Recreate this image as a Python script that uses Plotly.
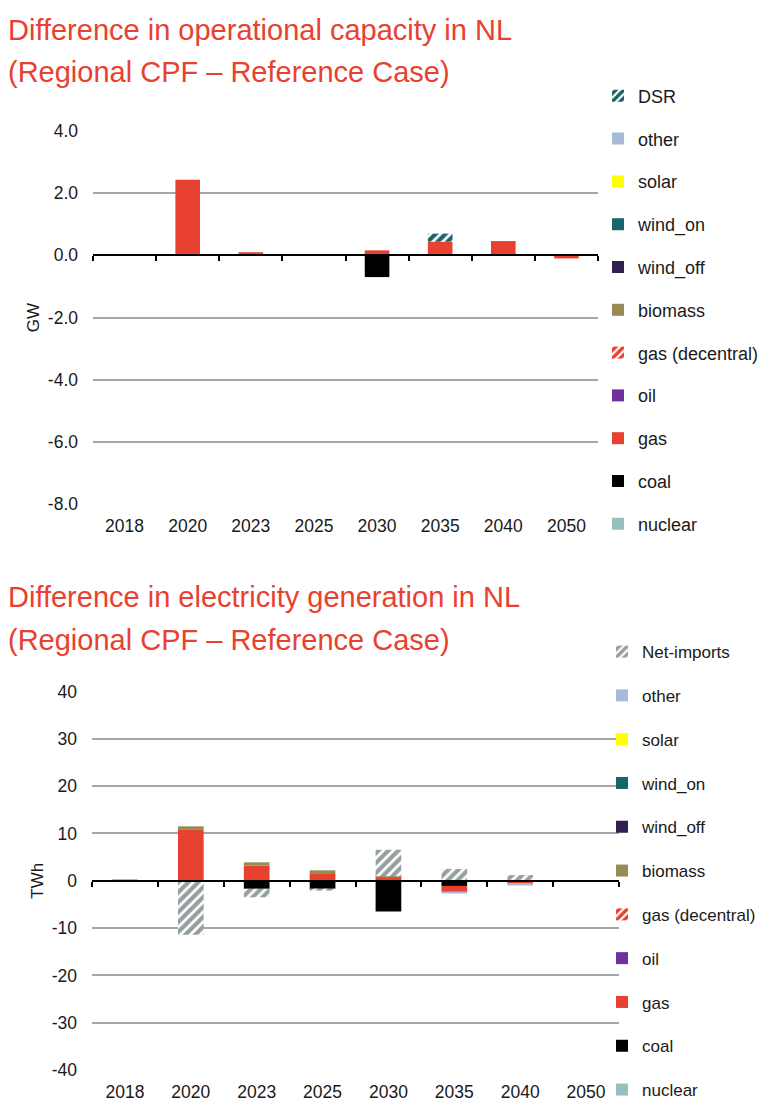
import plotly.graph_objects as go

years = ['2018', '2020', '2023', '2025', '2030', '2035', '2040', '2050']
zeros = [0, 0, 0, 0, 0, 0, 0, 0]

# capacity difference (GW)
cap_nuclear = zeros
cap_coal = [0, 0, 0, 0, -0.70, 0, 0, 0]
cap_gas = [0, 2.43, 0.10, 0, 0.16, 0.44, 0.46, -0.10]
cap_oil = zeros
cap_gas_dec = zeros
cap_biomass = zeros
cap_wind_off = zeros
cap_wind_on = zeros
cap_solar = zeros
cap_other = zeros
cap_dsr = [0, 0, 0, 0, 0, 0.26, 0, 0]

# generation difference (TWh)
gen_nuclear = zeros
gen_coal = [0, 0, -1.7, -1.75, -6.5, -1.1, -0.25, 0]
gen_gas = [0.1, 10.9, 3.2, 1.6, 0.85, -1.3, -0.35, 0]
gen_oil = zeros
gen_gas_dec = zeros
gen_biomass = [0, 0.6, 0.7, 0.6, 0.1, 0, 0, 0]
gen_wind_off = zeros
gen_wind_on = zeros
gen_solar = zeros
gen_other = [0, 0, 0, 0, 0, -0.3, -0.3, 0]
gen_netimp = [0, -11.4, -1.8, -0.35, 5.6, 2.5, 1.2, 0]

# axis tick labels (hyphen minus like the original)
cap_ticks = [-8, -6, -4, -2, 0, 2, 4]
cap_ticktext = ['-8.0', '-6.0', '-4.0', '-2.0', '0.0', '2.0', '4.0']
gen_ticks = [-40, -30, -20, -10, 0, 10, 20, 30, 40]
gen_ticktext = ['-40', '-30', '-20', '-10', '0', '10', '20', '30', '40']

W, H = 769, 1100
OFF = 8  # page body margin
RED = '#E8412F'
FONT = 'Liberation Sans, Arial, sans-serif'


def py(px):
    return 1 - (px - OFF) / H


def px_x(px):
    return (px - OFF) / W


series = [
    ('nuclear', '#96C0C0', None),
    ('coal', '#000000', None),
    ('gas', RED, None),
    ('oil', '#7030A0', None),
    ('gas (decentral)', RED, '/'),
    ('biomass', '#978B55', None),
    ('wind_off', '#302050', None),
    ('wind_on', '#17656D', None),
    ('solar', '#FFFF00', None),
    ('other', '#A9B9D9', None),
]

cap_vals = [cap_nuclear, cap_coal, cap_gas, cap_oil, cap_gas_dec, cap_biomass,
            cap_wind_off, cap_wind_on, cap_solar, cap_other]
gen_vals = [gen_nuclear, gen_coal, gen_gas, gen_oil, gen_gas_dec, gen_biomass,
            gen_wind_off, gen_wind_on, gen_solar, gen_other]

fig = go.Figure()
rank = [100]


def add_bar(name, vals, color, pattern, xa, ya, legend, grp):
    if pattern:
        marker = dict(color='white', line=dict(width=0),
                      pattern=dict(shape=pattern, fgcolor=color, bgcolor='white',
                                   fgopacity=1, size=7, solidity=0.6))
    else:
        marker = dict(color=color, line=dict(width=0))
    rank[0] -= 1
    fig.add_trace(go.Bar(x=years, y=vals, name=name, marker=marker,
                         xaxis=xa, yaxis=ya, legend=legend, legendgroup=grp,
                         legendrank=rank[0]))


for (name, color, pat), v in zip(series, cap_vals):
    add_bar(name, v, color, pat, 'x', 'y', 'legend', 'c_' + name)
add_bar('DSR', cap_dsr, '#15636B', '/', 'x', 'y', 'legend', 'c_DSR')

for (name, color, pat), v in zip(series, gen_vals):
    add_bar(name, v, color, pat, 'x2', 'y2', 'legend2', 'g_' + name)
add_bar('Net-imports', gen_netimp, '#959FA0', '/', 'x2', 'y2', 'legend2', 'g_NI')

# empty traces so the zero-line axes (with category tick marks) get drawn
fig.add_trace(go.Scatter(x=[], y=[], xaxis='x3', yaxis='y', showlegend=False,
                         hoverinfo='skip'))
fig.add_trace(go.Scatter(x=[], y=[], xaxis='x4', yaxis='y2', showlegend=False,
                         hoverinfo='skip'))

# plot areas (window pixels)
top_x = [93, 598]
top_y = [504, 131]
bot_x = [92, 619]
bot_y = [1070, 691.5]

top_dom = [py(top_y[0]), py(top_y[1])]
bot_dom = [py(bot_y[0]), py(bot_y[1])]
top_rng = [-8, 4]
bot_rng = [-40, 40]


def zero_pos(dom, rng):
    return dom[0] + (0 - rng[0]) / (rng[1] - rng[0]) * (dom[1] - dom[0])


tickfont = dict(family=FONT, size=17.5, color='#1a1a1a')
ycommon = dict(showgrid=True, gridcolor='#A6A6A6', gridwidth=1.6, zeroline=False,
               showline=False, ticks='', tickfont=tickfont, ticklabelstandoff=14)
xcommon = dict(type='category', showgrid=False, zeroline=False, showline=False,
               ticks='', tickfont=tickfont, ticklabelstandoff=9)
zcommon = dict(type='linear', showgrid=False, zeroline=False, showline=True,
               linecolor='black', linewidth=2, ticks='outside', ticklen=5,
               tickwidth=2, tickcolor='black', showticklabels=False,
               range=[0, 8], tick0=0, dtick=1, anchor='free')
titlefont = dict(family=FONT, size=29, color=RED)

fig.update_layout(
    width=W, height=H,
    margin=dict(l=0, r=0, t=0, b=0, autoexpand=False),
    paper_bgcolor='white', plot_bgcolor='white',
    barmode='relative', bargap=0.61,
    font=dict(family=FONT, color='#1a1a1a'),
    xaxis=dict(domain=[px_x(top_x[0]), px_x(top_x[1])], anchor='y', **xcommon),
    yaxis=dict(domain=top_dom, anchor='x', range=top_rng,
               tickvals=cap_ticks, ticktext=cap_ticktext,
               title=dict(text='GW', font=dict(family=FONT, size=17, color='#1a1a1a'),
                          standoff=3), **ycommon),
    xaxis2=dict(domain=[px_x(bot_x[0]), px_x(bot_x[1])], anchor='y2', **xcommon),
    yaxis2=dict(domain=bot_dom, anchor='x2', range=bot_rng,
                tickvals=gen_ticks, ticktext=gen_ticktext,
                title=dict(text='TWh', font=dict(family=FONT, size=17, color='#1a1a1a'),
                           standoff=3), **ycommon),
    xaxis3=dict(overlaying='x', position=zero_pos(top_dom, top_rng), **zcommon),
    xaxis4=dict(overlaying='x2', position=zero_pos(bot_dom, bot_rng), **zcommon),
    legend=dict(x=px_x(598), y=py(77.6), xanchor='left', yanchor='top',
                traceorder='grouped', tracegroupgap=16.4,
                font=dict(family=FONT, size=18, color='#1a1a1a'),
                bgcolor='rgba(0,0,0,0)'),
    legend2=dict(x=px_x(602), y=py(634), xanchor='left', yanchor='top',
                 traceorder='grouped', tracegroupgap=18.7,
                 font=dict(family=FONT, size=17, color='#1a1a1a'),
                 bgcolor='rgba(0,0,0,0)'),
    annotations=[
        dict(text='Difference in operational capacity in NL', y=py(30)),
        dict(text='(Regional CPF – Reference Case)', y=py(72)),
        dict(text='Difference in electricity generation in NL', y=py(597)),
        dict(text='(Regional CPF – Reference Case)', y=py(640)),
    ],
)
fig.update_annotations(xref='paper', yref='paper', x=px_x(6), xanchor='left',
                       yanchor='middle', showarrow=False, font=titlefont)

fig.write_html('out.html')
